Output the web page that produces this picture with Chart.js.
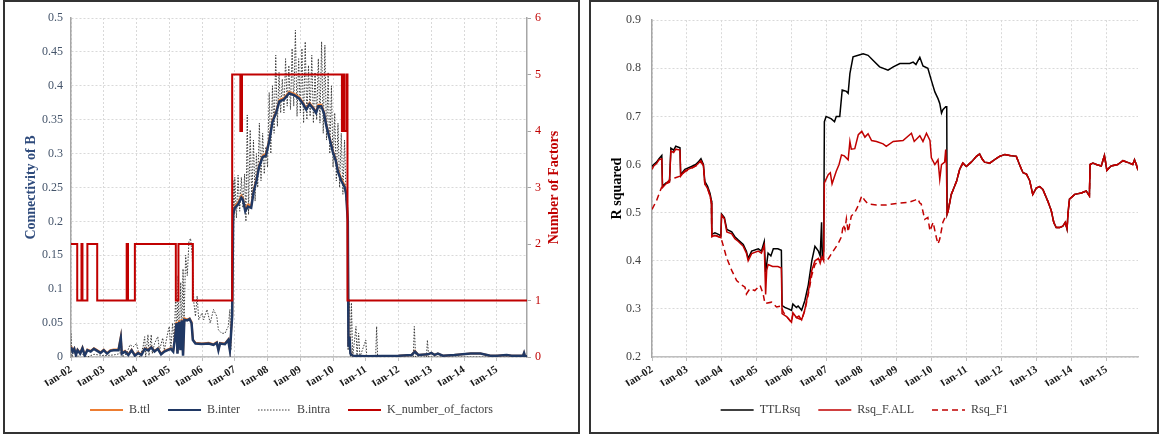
<!DOCTYPE html>
<html>
<head>
<meta charset="utf-8">
<script src="https://cdn.jsdelivr.net/npm/chart.js@4.4.1/dist/chart.umd.min.js"></script>
<style>
  body { margin: 0; background: #fff; }
  .box { position: absolute; top: 0; height: 434px; border: 2px solid #333; box-sizing: border-box; background: #fff; }
  canvas { display: block; }
</style>
</head>
<body>
<div class="box" style="left:3px;width:577px"><canvas id="chartL" width="573" height="430"></canvas></div>
<div class="box" style="left:589px;width:570px"><canvas id="chartR" width="566" height="430"></canvas></div>
<script>
// ---- left panel: connectivity of B and number of factors ----
const interDates = [
  2002.00,2002.05,2002.10,2002.15,2002.20,2002.28,2002.35,2002.42,2002.50,2002.60,
  2002.70,2002.80,2002.90,2003.00,2003.10,2003.20,2003.30,2003.45,2003.52,2003.55,
  2003.65,2003.75,2003.85,2003.95,2004.05,2004.15,2004.25,2004.35,2004.45,2004.55,
  2004.65,2004.75,2004.85,2004.95,2005.05,2005.12,2005.18,2005.22,2005.25,2005.30,
  2005.34,2005.38,2005.42,2005.46,2005.55,2005.62,2005.68,2005.72,2005.80,2006.00,
  2006.20,2006.35,2006.45,2006.50,2006.55,2006.70,2006.80,2006.85,2006.88,2006.92,
  2006.95,2007.00,2007.10,2007.20,2007.25,2007.32,2007.40,2007.50,2007.58,2007.66,
  2007.74,2007.85,2007.95,2008.05,2008.15,2008.26,2008.36,2008.50,2008.66,2008.82,
  2008.97,2009.10,2009.18,2009.28,2009.40,2009.48,2009.55,2009.64,2009.72,2009.79,
  2009.89,2009.99,2010.08,2010.15,2010.25,2010.35,2010.40,2010.45,2010.47,2010.50,
  2010.53,2010.60,2011.00,2012.00,2012.40,2012.50,2012.60,2012.90,2013.00,2013.10,
  2013.20,2013.35,2013.70,2014.20,2014.50,2014.80,2015.00,2015.30,2015.45,2015.80,
  2015.83,2015.86,2015.92
];
const interValues = [
  0.015,0.008,0.012,0.003,0.010,0.005,0.013,0.002,0.010,0.008,
  0.012,0.009,0.006,0.010,0.005,0.009,0.010,0.010,0.028,0.005,
  0.008,0.003,0.010,0.002,0.006,0.003,0.012,0.010,0.014,0.008,
  0.012,0.004,0.008,0.010,0.012,0.008,0.030,0.050,0.005,0.052,
  0.010,0.054,0.002,0.055,0.054,0.056,0.050,0.025,0.020,0.019,
  0.020,0.018,0.021,0.010,0.020,0.019,0.025,0.010,0.030,0.060,
  0.210,0.220,0.225,0.235,0.232,0.215,0.222,0.220,0.245,0.260,
  0.280,0.295,0.297,0.318,0.347,0.360,0.377,0.380,0.389,0.386,
  0.381,0.372,0.365,0.373,0.366,0.360,0.370,0.370,0.360,0.342,
  0.323,0.303,0.290,0.273,0.260,0.251,0.240,0.200,0.015,0.030,
  0.005,0.002,0.001,0.002,0.003,0.008,0.003,0.004,0.006,0.003,
  0.005,0.002,0.003,0.005,0.005,0.002,0.002,0.003,0.002,0.002,
  0.006,0.001,0.001
];
const ttlValues = [
  0.016,0.009,0.013,0.004,0.011,0.006,0.014,0.003,0.011,0.009,
  0.013,0.010,0.007,0.011,0.006,0.010,0.011,0.011,0.030,0.006,
  0.009,0.004,0.011,0.003,0.007,0.004,0.013,0.011,0.015,0.009,
  0.013,0.005,0.009,0.011,0.013,0.009,0.032,0.052,0.006,0.054,
  0.011,0.056,0.003,0.057,0.055,0.057,0.052,0.026,0.021,0.020,
  0.021,0.019,0.022,0.011,0.021,0.020,0.026,0.011,0.032,0.062,
  0.212,0.222,0.228,0.238,0.234,0.218,0.225,0.223,0.248,0.262,
  0.282,0.297,0.300,0.320,0.349,0.362,0.379,0.382,0.391,0.388,
  0.383,0.374,0.367,0.375,0.368,0.362,0.372,0.372,0.362,0.344,
  0.325,0.305,0.292,0.276,0.263,0.254,0.243,0.203,0.016,0.031,
  0.006,0.002,0.001,0.002,0.003,0.009,0.003,0.004,0.006,0.003,
  0.005,0.002,0.003,0.005,0.005,0.002,0.002,0.003,0.002,0.002,
  0.006,0.001,0.001
];
const intraDates = [
  2002.00,2002.03,2002.10,2002.20,2002.30,2002.50,2002.70,2003.00,2003.30,2003.50,
  2003.53,2003.56,2003.70,2003.80,2003.90,2004.00,2004.10,2004.20,2004.25,2004.28,
  2004.35,2004.38,2004.45,2004.48,2004.55,2004.65,2004.70,2004.80,2004.85,2004.95,
  2005.00,2005.05,2005.10,2005.15,2005.20,2005.23,2005.27,2005.30,2005.35,2005.38,
  2005.42,2005.45,2005.50,2005.55,2005.60,2005.65,2005.70,2005.75,2005.80,2005.85,
  2005.90,2006.00,2006.05,2006.15,2006.25,2006.35,2006.45,2006.50,2006.60,2006.70,
  2006.80,2006.85,2006.88,2006.92,2006.95,2006.97,2007.00,2007.05,2007.10,2007.15,
  2007.20,2007.25,2007.30,2007.34,2007.38,2007.42,2007.47,2007.52,2007.57,2007.62,
  2007.66,2007.70,2007.75,2007.80,2007.85,2007.90,2007.95,2008.00,2008.05,2008.10,
  2008.15,2008.20,2008.25,2008.30,2008.35,2008.40,2008.45,2008.50,2008.55,2008.60,
  2008.65,2008.70,2008.75,2008.80,2008.85,2008.90,2008.95,2009.00,2009.05,2009.10,
  2009.15,2009.20,2009.25,2009.30,2009.35,2009.40,2009.45,2009.50,2009.55,2009.60,
  2009.65,2009.70,2009.75,2009.80,2009.85,2009.90,2009.95,2010.00,2010.05,2010.10,
  2010.15,2010.20,2010.25,2010.30,2010.35,2010.40,2010.44,2010.46,2010.50,2010.53,
  2010.56,2010.60,2010.70,2010.73,2010.78,2010.82,2011.00,2011.03,2011.30,2011.33,
  2011.36,2012.45,2012.48,2012.52,2012.85,2012.88,2012.92,2015.92
];
const intraValues = [
  0.035,0.000,0.010,0.000,0.005,0.000,0.004,0.002,0.003,0.005,
  0.035,0.000,0.005,0.018,0.015,0.020,0.000,0.015,0.030,0.000,
  0.033,0.002,0.033,0.005,0.020,0.030,0.010,0.028,0.010,0.035,
  0.045,0.010,0.050,0.020,0.100,0.010,0.120,0.020,0.110,0.030,
  0.130,0.050,0.150,0.120,0.170,0.175,0.150,0.080,0.060,0.090,
  0.055,0.065,0.055,0.070,0.050,0.070,0.060,0.040,0.035,0.035,
  0.045,0.070,0.010,0.160,0.260,0.200,0.265,0.205,0.268,0.215,
  0.265,0.220,0.270,0.200,0.357,0.210,0.335,0.225,0.320,0.230,
  0.300,0.250,0.345,0.260,0.330,0.270,0.310,0.280,0.390,0.300,
  0.400,0.330,0.445,0.340,0.420,0.360,0.410,0.360,0.440,0.370,
  0.430,0.365,0.455,0.370,0.482,0.355,0.440,0.360,0.455,0.345,
  0.465,0.350,0.430,0.355,0.445,0.345,0.420,0.350,0.440,0.345,
  0.465,0.330,0.460,0.320,0.420,0.300,0.400,0.280,0.360,0.260,
  0.345,0.250,0.330,0.240,0.320,0.230,0.250,0.010,0.085,0.000,
  0.080,0.000,0.045,0.000,0.035,0.000,0.025,0.000,0.000,0.045,
  0.000,0.000,0.045,0.000,0.000,0.025,0.000,0.000
];
const kDates  = [2002.00,2002.19,2002.32,2002.35,2002.50,2002.80,2003.70,2003.74,2003.95,2005.20,2005.28,2005.72,2006.92,2007.17,2007.22,2010.27,2010.33,2010.35,2010.42,2010.44,2015.92];
const kValues = [2,1,2,1,2,1,2,1,2,1,2,1,5,4,5,4,5,4,5,1,1];

// ---- right panel: R squared ----
const ttlRsqDates = [
  2002.00,2002.05,2002.13,2002.20,2002.28,2002.30,2002.40,2002.50,2002.54,2002.62,
  2002.68,2002.80,2002.82,2002.94,2003.13,2003.25,2003.32,2003.40,2003.47,2003.51,
  2003.59,2003.66,2003.70,2003.71,2003.80,2003.90,2003.97,2003.99,2004.07,2004.14,
  2004.28,2004.37,2004.47,2004.61,2004.70,2004.75,2004.85,2005.04,2005.13,2005.21,
  2005.25,2005.32,2005.40,2005.47,2005.60,2005.70,2005.72,2005.80,2005.90,2005.99,
  2006.03,2006.13,2006.18,2006.28,2006.37,2006.47,2006.57,2006.66,2006.76,2006.81,
  2006.85,2006.87,2006.91,2006.93,2006.98,2007.13,2007.22,2007.27,2007.37,2007.44,
  2007.56,2007.61,2007.66,2007.75,2007.90,2008.04,2008.18,2008.37,2008.51,2008.75,
  2008.90,2009.09,2009.37,2009.47,2009.55,2009.66,2009.75,2009.89,2009.99,2010.09,
  2010.18,2010.23,2010.28,2010.32,2010.40,2010.43
];
const ttlRsqValues = [
  0.596,0.600,0.605,0.612,0.619,0.555,0.562,0.565,0.634,0.630,
  0.638,0.635,0.579,0.590,0.596,0.600,0.605,0.612,0.600,0.565,
  0.555,0.540,0.525,0.455,0.458,0.455,0.452,0.497,0.490,0.465,
  0.460,0.450,0.443,0.434,0.420,0.405,0.420,0.425,0.420,0.440,
  0.376,0.416,0.410,0.425,0.425,0.422,0.307,0.303,0.300,0.297,
  0.310,0.303,0.306,0.297,0.317,0.350,0.400,0.430,0.420,0.410,
  0.480,0.410,0.420,0.689,0.700,0.695,0.689,0.700,0.700,0.755,
  0.752,0.748,0.789,0.824,0.827,0.830,0.827,0.813,0.803,0.796,
  0.803,0.810,0.810,0.813,0.808,0.823,0.805,0.800,0.775,0.751,
  0.737,0.727,0.707,0.714,0.720,0.720
];
const fAllDates = [
  2002.00,2002.05,2002.13,2002.20,2002.28,2002.30,2002.40,2002.50,2002.54,2002.62,
  2002.68,2002.80,2002.82,2002.94,2003.13,2003.25,2003.32,2003.40,2003.47,2003.51,
  2003.59,2003.66,2003.70,2003.71,2003.80,2003.90,2003.97,2003.99,2004.07,2004.14,
  2004.28,2004.37,2004.47,2004.61,2004.70,2004.75,2004.85,2005.04,2005.13,2005.21,
  2005.25,2005.28,2005.32,2005.45,2005.60,2005.70,2005.72,2005.85,2005.99,2006.03,
  2006.13,2006.20,2006.28,2006.37,2006.47,2006.57,2006.66,2006.76,2006.81,2006.86,
  2006.91,2006.93,2007.04,2007.10,2007.15,2007.27,2007.35,2007.42,2007.50,2007.61,
  2007.66,2007.70,2007.80,2007.90,2008.00,2008.09,2008.18,2008.28,2008.42,2008.61,
  2008.70,2008.90,2009.18,2009.42,2009.50,2009.66,2009.75,2009.85,2009.95,2009.99,
  2010.09,2010.18,2010.23,2010.28,2010.37,2010.40,2010.42
];
const fAllValues = [
  0.590,0.597,0.602,0.610,0.612,0.552,0.560,0.563,0.628,0.625,
  0.632,0.630,0.576,0.587,0.593,0.597,0.602,0.608,0.598,0.560,
  0.550,0.535,0.520,0.450,0.453,0.450,0.448,0.495,0.487,0.460,
  0.456,0.446,0.440,0.430,0.416,0.400,0.415,0.420,0.416,0.432,
  0.330,0.380,0.392,0.388,0.388,0.385,0.290,0.284,0.272,0.292,
  0.282,0.285,0.277,0.298,0.335,0.380,0.400,0.405,0.395,0.408,
  0.400,0.562,0.579,0.583,0.560,0.586,0.600,0.620,0.618,0.610,
  0.648,0.632,0.633,0.662,0.669,0.657,0.664,0.650,0.648,0.643,
  0.638,0.648,0.650,0.665,0.648,0.660,0.648,0.665,0.650,0.614,
  0.600,0.610,0.569,0.600,0.605,0.631,0.600
];
const f1Dates = [
  2002.00,2002.13,2002.27,2002.40,2002.50,2002.65,2002.80,2002.94,2003.13,2003.32,
  2003.40,2003.47,2003.51,2003.59,2003.66,2003.70,2003.71,2003.85,2003.97,2004.04,
  2004.13,2004.28,2004.42,2004.56,2004.66,2004.70,2004.80,2004.94,2005.09,2005.18,
  2005.23,2005.42,2005.56,2005.70,2005.75,2005.85,2005.99,2006.03,2006.13,2006.28,
  2006.37,2006.47,2006.57,2006.66,2006.76,2006.86,2006.95,2007.04,2007.18,2007.32,
  2007.42,2007.47,2007.52,2007.56,2007.61,2007.70,2007.80,2007.90,2008.00,2008.09,
  2008.18,2008.42,2008.70,2008.99,2009.37,2009.52,2009.60,2009.66,2009.70,2009.80,
  2009.89,2009.95,2010.04,2010.13,2010.18,2010.23,2010.32,2010.42
];
const f1Values = [
  0.507,0.525,0.552,0.560,0.568,0.572,0.576,0.585,0.592,0.600,
  0.606,0.597,0.560,0.550,0.535,0.520,0.452,0.452,0.448,0.431,
  0.407,0.380,0.359,0.350,0.345,0.331,0.342,0.338,0.349,0.331,
  0.311,0.314,0.304,0.306,0.294,0.284,0.272,0.290,0.282,0.277,
  0.296,0.330,0.370,0.392,0.400,0.405,0.400,0.404,0.420,0.435,
  0.450,0.475,0.465,0.487,0.460,0.493,0.500,0.515,0.535,0.525,
  0.518,0.516,0.516,0.519,0.522,0.526,0.529,0.520,0.518,0.486,
  0.490,0.462,0.480,0.449,0.435,0.445,0.480,0.496
];
// after mid-2010 the three R squared series lie on top of each other
const tailDates = [
  2010.44,2010.47,2010.56,2010.71,2010.80,2010.89,2010.99,2011.13,2011.28,2011.37,
  2011.44,2011.51,2011.66,2011.80,2011.94,2012.09,2012.23,2012.42,2012.51,2012.61,
  2012.71,2012.80,2012.89,2012.99,2013.09,2013.18,2013.32,2013.42,2013.49,2013.56,
  2013.66,2013.75,2013.82,2013.87,2013.90,2013.94,2014.09,2014.28,2014.42,2014.51,
  2014.53,2014.61,2014.71,2014.85,2014.94,2015.01,2015.13,2015.32,2015.47,2015.66,
  2015.75,2015.80,2015.85,2015.90
];
const tailValues = [
  0.497,0.504,0.538,0.565,0.590,0.603,0.596,0.605,0.617,0.622,
  0.612,0.605,0.603,0.610,0.617,0.621,0.619,0.617,0.600,0.583,
  0.580,0.567,0.538,0.551,0.554,0.548,0.524,0.504,0.480,0.469,
  0.469,0.472,0.480,0.466,0.500,0.528,0.538,0.541,0.545,0.535,
  0.600,0.603,0.600,0.597,0.619,0.588,0.597,0.600,0.608,0.603,
  0.600,0.610,0.600,0.588
];

const SERIF = "'Liberation Serif', 'Times New Roman', serif";
const RED = '#c00000';

function pts(xs, ys) {
  return xs.map((x, i) => ({ x: x, y: ys[i] }));
}

function yearLabel(v) {
  return 'Jan-' + String(Math.round(v) - 2000).padStart(2, '0');
}

function xAxis(max) {
  return {
    type: 'linear',
    min: 2002,
    max: max,
    afterFit: s => { s.height = 29; },
    grid: { color: '#d9d9d9', lineWidth: 1, tickLength: 4, tickColor: '#bfbfbf' },
    border: { color: '#bfbfbf', width: 1.5, dash: [2, 2] },
    ticks: {
      stepSize: 1, includeBounds: false, autoSkip: false,
      minRotation: 33, maxRotation: 33, padding: 2,
      color: '#1a1a1a', font: { family: SERIF, size: 11, weight: 'bold' },
      callback: yearLabel
    }
  };
}

// legend samples are drawn as short lines with the dataset's own width and dash
function lineLabels(chart) {
  const items = Chart.defaults.plugins.legend.labels.generateLabels(chart);
  items.forEach(it => {
    const ds = chart.data.datasets[it.datasetIndex];
    it.lineDash = ds.borderDash || [];
    it.lineWidth = Math.min(ds.borderWidth, 2);
    it.strokeStyle = ds.borderColor;
  });
  return items;
}

function legendOpts() {
  return {
    position: 'bottom',
    labels: {
      usePointStyle: true, pointStyle: 'line', pointStyleWidth: 33,
      padding: 18, color: '#404040', font: { family: SERIF, size: 12 },
      generateLabels: lineLabels,
      sort: (a, b) => a.datasetIndex - b.datasetIndex
    }
  };
}

// right axis title reads bottom-to-top like the left one
const kTitle = {
  id: 'kTitle',
  afterDraw(chart) {
    const s = chart.scales.yK;
    const ctx = chart.ctx;
    ctx.save();
    ctx.translate(s.right - 24, (chart.chartArea.top + chart.chartArea.bottom) / 2);
    ctx.rotate(-Math.PI / 2);
    ctx.textAlign = 'center';
    ctx.textBaseline = 'middle';
    ctx.font = 'bold 14px ' + SERIF;
    ctx.fillStyle = RED;
    ctx.fillText('Number of Factors', 0, 0);
    ctx.restore();
  }
};

new Chart(document.getElementById('chartL').getContext('2d'), {
  type: 'line',
  data: {
    datasets: [
      { label: 'B.ttl', data: pts(interDates, ttlValues), borderColor: '#ed7d31', borderWidth: 2, order: 2, yAxisID: 'y' },
      { label: 'B.inter', data: pts(interDates, interValues), borderColor: '#203864', borderWidth: 2.5, order: 1, yAxisID: 'y' },
      { label: 'B.intra', data: pts(intraDates, intraValues), borderColor: '#3a3a3a', borderWidth: 1, borderDash: [1.5, 1.5], order: 3, yAxisID: 'y' },
      { label: 'K_number_of_factors', data: pts(kDates, kValues), borderColor: RED, borderWidth: 2, stepped: true, order: 0, yAxisID: 'yK' }
    ]
  },
  options: {
    responsive: false,
    animation: false,
    devicePixelRatio: 1,
    layout: { padding: { top: 16, bottom: 6, left: 0, right: 0 } },
    elements: { point: { radius: 0 }, line: { tension: 0 } },
    plugins: { legend: legendOpts(), tooltip: { enabled: false } },
    scales: {
      x: xAxis(2015.92),
      y: {
        position: 'left', min: 0, max: 0.5,
        afterFit: s => { s.width = 66; },
        grid: { color: '#d9d9d9', drawTicks: false },
        border: { color: '#a6a6a6', width: 1.5, dash: [2, 2] },
        ticks: { stepSize: 0.05, padding: 8, color: '#44546a', font: { family: SERIF, size: 12 }, callback: v => String(+v.toFixed(2)) },
        title: { display: true, text: 'Connectivity of B', color: '#2f4b7c', font: { family: SERIF, size: 14, weight: 'bold' }, padding: { top: 18, bottom: 0 } }
      },
      yK: {
        position: 'right', min: 0, max: 6,
        afterFit: s => { s.width = 51; },
        grid: { drawOnChartArea: false, tickLength: 4, tickColor: '#a6a6a6' },
        border: { color: '#a6a6a6', width: 1.5 },
        ticks: { stepSize: 1, padding: 4, color: RED, font: { family: SERIF, size: 12 } }
      }
    }
  },
  plugins: [kTitle]
});

new Chart(document.getElementById('chartR').getContext('2d'), {
  type: 'line',
  data: {
    datasets: [
      { label: 'TTLRsq', data: pts(ttlRsqDates.concat(tailDates), ttlRsqValues.concat(tailValues)), borderColor: '#000000', borderWidth: 1.5, order: 2 },
      { label: 'Rsq_F.ALL', data: pts(fAllDates.concat(tailDates), fAllValues.concat(tailValues)), borderColor: RED, borderWidth: 1.5, order: 0 },
      { label: 'Rsq_F1', data: pts(f1Dates.concat(tailDates), f1Values.concat(tailValues)), borderColor: RED, borderWidth: 1.5, borderDash: [6, 4], order: 1 }
    ]
  },
  options: {
    responsive: false,
    animation: false,
    devicePixelRatio: 1,
    layout: { padding: { top: 16, bottom: 6, left: 0, right: 19 } },
    elements: { point: { radius: 0 }, line: { tension: 0 } },
    plugins: { legend: legendOpts(), tooltip: { enabled: false } },
    scales: {
      x: xAxis(2015.9),
      y: {
        position: 'left', min: 0.2, max: 0.9,
        afterFit: s => { s.width = 61; },
        grid: { color: '#d9d9d9', drawTicks: false },
        border: { color: '#a6a6a6', width: 1.5, dash: [2, 2] },
        ticks: { stepSize: 0.1, padding: 11, color: '#404040', font: { family: SERIF, size: 12 }, callback: v => v.toFixed(1) },
        title: { display: true, text: 'R squared', color: '#000000', font: { family: SERIF, size: 14, weight: 'bold' }, padding: { top: 18, bottom: 0 } }
      }
    }
  }
});
</script>
</body>
</html>
